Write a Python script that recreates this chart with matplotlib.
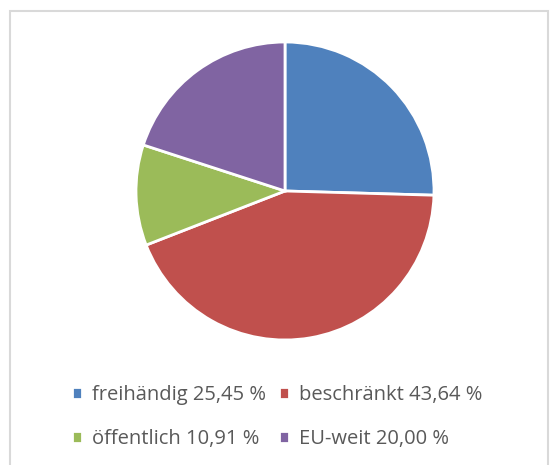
import matplotlib.pyplot as plt
from matplotlib.patches import Rectangle

labels = ["freihändig", "beschränkt", "öffentlich", "EU-weit"]
shares = [25.45, 43.64, 10.91, 20.00]
colors = ["#4F81BD", "#C0504D", "#9BBB59", "#8064A2"]

W, H = 550, 465
fig = plt.figure(figsize=(W / 100, H / 100), dpi=100)

# chart frame
fig.patches.append(Rectangle((10 / W, -0.05), 538 / W, 1.05 - 11 / H,
                             transform=fig.transFigure, fill=False,
                             edgecolor="#D9D9D9", linewidth=1.5))

cx, cy, r = 285, 191, 149
ax = fig.add_axes([(cx - r) / W, (H - cy - r) / H, 2 * r / W, 2 * r / H])
wedges, _ = ax.pie(shares, colors=colors, startangle=90, counterclock=False,
                   wedgeprops=dict(edgecolor="white", linewidth=2))
ax.set_xlim(-1.0, 1.0)
ax.set_ylim(-1.0, 1.0)
ax.set_aspect("equal")

legend_labels = [f"{l} {v:.2f} %".replace(".", ",") for l, v in zip(labels, shares)]
# legend fills column-wise, so reorder to read row by row
order = [0, 2, 1, 3]
fig.legend([wedges[i] for i in order], [legend_labels[i] for i in order],
           loc="center", bbox_to_anchor=(0.504, 1 - 417 / H),
           ncol=2, frameon=False, handlelength=0.5, handleheight=0.5,
           handletextpad=0.5, columnspacing=0.6, labelspacing=1.2,
           prop={"family": "Open Sans", "size": 14.5}, labelcolor="#595959")

fig.savefig("out.png", dpi=100)
